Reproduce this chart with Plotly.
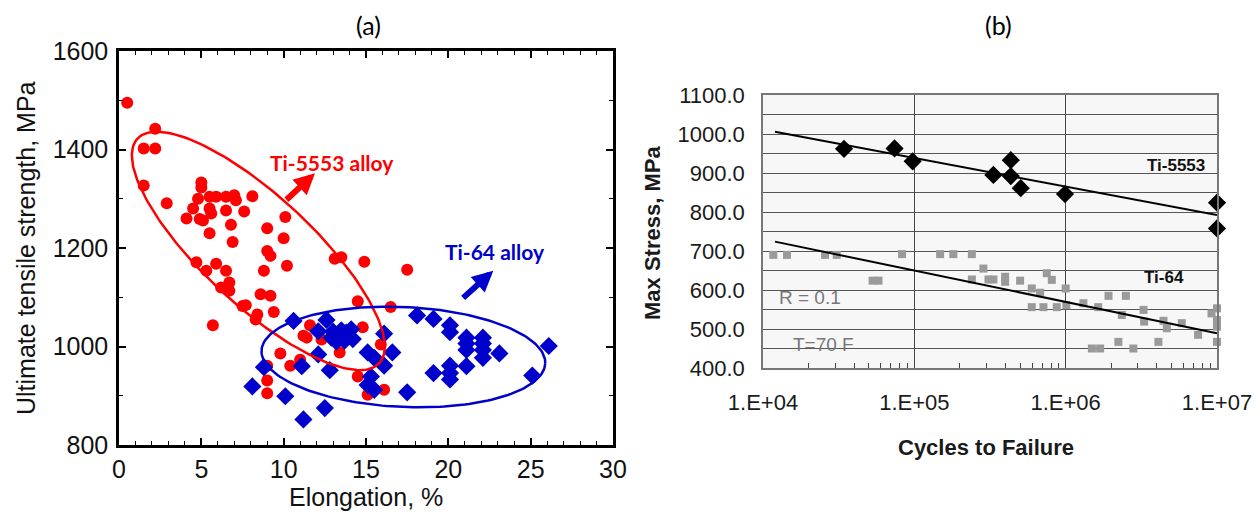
import numpy as np
import plotly.graph_objects as go

# ---------------- Panel (a) data ----------------
ti5553_elong = [0.5, 2.2, 1.5, 2.2, 1.5, 2.9, 5.0, 5.0, 4.8, 5.5, 5.9, 6.5, 7.0, 7.1, 8.1,
                4.5, 4.9, 5.1, 5.5, 5.6, 4.1, 6.5, 7.6, 10.1, 5.5, 6.8, 6.9, 9.0, 10.0, 9.0,
                9.2, 13.1, 13.5, 14.9, 17.5, 10.2, 8.8, 4.7, 5.9, 5.3, 6.5, 6.7, 6.7, 6.2, 8.6,
                9.2, 7.5, 7.7, 8.4, 8.3, 9.4, 5.7, 14.5, 16.5, 11.6, 11.2, 11.4, 12.3, 14.8, 15.9,
                9.8, 13.4, 11.0, 10.4, 9.0, 9.0, 9.0, 14.5, 15.1, 16.1]
ti5553_uts = [1495, 1442, 1402, 1402, 1327, 1291, 1333, 1323, 1300, 1304, 1304, 1304, 1307, 1297, 1305,
              1280, 1259, 1256, 1280, 1270, 1260, 1276, 1274, 1263, 1230, 1247, 1212, 1240, 1220, 1194,
              1184, 1178, 1181, 1172, 1156, 1164, 1154, 1171, 1168, 1154, 1154, 1130, 1113, 1120, 1106,
              1103, 1082, 1084, 1065, 1055, 1070, 1043, 1092, 1080, 1043, 1022, 1018, 1014, 1039, 1004,
              986, 988, 973, 961, 961, 931, 905, 939, 902, 912]

ti64_elong = [10.6, 12.6, 12.1, 13.0, 13.3, 13.5, 13.8, 14.1, 13.7, 14.2, 13.2, 12.9, 16.1, 12.1,
              15.1, 15.5, 16.6, 11.1, 12.8, 16.1, 8.8, 15.3, 15.1, 15.5, 8.1, 10.1, 17.5, 12.5, 11.2,
              18.1, 19.1, 20.1, 20.1, 21.1, 21.1, 21.1, 22.1, 22.1, 22.1, 22.1, 23.1, 26.1, 21.1,
              20.1, 20.1, 20.1, 19.1, 25.1]
ti64_uts = [1052, 1054, 1031, 1030, 1020, 1033, 1028, 1035, 1012, 1015, 1010, 1018, 1026, 984,
            988, 977, 988, 960, 952, 961, 958, 939, 922, 912, 919, 899, 907, 875, 852,
            1063, 1056, 1043, 1029, 1018, 1006, 993, 1018, 1006, 993, 977, 986, 1001, 960,
            961, 946, 933, 946, 941]

# ellipse annotations (centre in data units, semi-axes in screen px, angle in deg)
ell_red = dict(cx=8.46, cy=1194, a=165, b=54.5, ang=42.9)
ell_blue = dict(cx=17.27, cy=978.7, a=142, b=50, ang=2.6)

# ---------------- Panel (b) data ----------------
ti5553_cycles = [3.43e4, 7.4e4, 9.75e4, 3.33e5, 4.34e5, 4.34e5, 5.05e5, 9.9e5, 1.0e7, 1.0e7]
ti5553_stress = [962, 963, 930, 895, 933, 892, 861, 846, 824, 758]
ti5553_trend_x = [1.2e4, 1.0e7]
ti5553_trend_y = [1006, 792]

ti64_cycles = [1.17e4, 1.44e4, 2.57e4, 3.07e4, 8.3e4, 5.3e4, 5.8e4, 1.48e5, 1.81e5, 2.4e5,
               2.86e5, 2.4e5, 3.09e5, 3.33e5, 3.98e5, 3.98e5, 5.0e5, 5.97e5, 6.78e5, 5.97e5,
               7.13e5, 8.73e5, 7.5e5, 8.1e5, 1.0e6, 1.01e6, 1.31e6, 1.64e6, 1.92e6, 2.5e6,
               2.35e6, 3.27e6, 3.3e6, 4.43e6, 4.66e6, 5.85e6, 7.5e6, 1.0e7, 9.2e6, 1.0e7,
               1.0e7, 1.0e7, 1.49e6, 1.69e6, 2.23e6, 2.8e6, 4.1e6]
ti64_stress = [690, 690, 690, 690, 692, 624, 624, 692, 692, 692,
               655, 627, 627, 627, 634, 621, 624, 604, 593, 556,
               556, 556, 643, 626, 604, 561, 566, 556, 585, 585,
               536, 549, 519, 521, 502, 515, 485, 553, 540, 523,
               506, 467, 450, 450, 467, 450, 467]
ti64_trend_x = [1.2e4, 1.0e7]
ti64_trend_y = [724, 489]

x2_tickvals = [1e4, 1e5, 1e6, 1e7]
x2_ticktext = ["1.E+04", "1.E+05", "1.E+06", "1.E+07"]
x2_minor = [k * d for d in (1e4, 1e5, 1e6) for k in range(2, 10)]

# ---------------- layout geometry ----------------
# the page has an 8px body margin; positions below are window pixels
OFF = 8
W, H = 1260, 516
A_L, A_R, A_T, A_B = 119, 613, 51, 445
B_L, B_R, B_T, B_B = 763, 1217, 95, 368
XA = [0, 30]
YA = [800, 1600]
SX = (A_R - A_L) / (XA[1] - XA[0])
SY = (A_B - A_T) / (YA[1] - YA[0])

ARIAL = "Arial, Liberation Sans, sans-serif"
CAL = "Lato, Carlito, Calibri, sans-serif"


def ellipse(p, n=200):
    t = np.linspace(0, 2 * np.pi, n)
    th = np.deg2rad(p["ang"])
    dx = p["a"] * np.cos(t) * np.cos(th) - p["b"] * np.sin(t) * np.sin(th)
    dy = p["a"] * np.cos(t) * np.sin(th) + p["b"] * np.sin(t) * np.cos(th)
    return p["cx"] + dx / SX, p["cy"] - dy / SY


def pxx(x):
    return (x - OFF) / W


def pyy(y):
    return 1 - (y - OFF) / H


fig = go.Figure()

# panel (a)
fig.add_trace(go.Scatter(x=ti5553_elong, y=ti5553_uts, mode="markers", xaxis="x", yaxis="y",
                         marker=dict(symbol="circle", size=12, color="#ff0000"), showlegend=False))
fig.add_trace(go.Scatter(x=ti64_elong, y=ti64_uts, mode="markers", xaxis="x", yaxis="y",
                         marker=dict(symbol="diamond", size=14, color="#0000cc"), showlegend=False))
ex, ey = ellipse(ell_red)
fig.add_trace(go.Scatter(x=ex, y=ey, mode="lines", xaxis="x", yaxis="y",
                         line=dict(color="#ff0000", width=2.5), showlegend=False, hoverinfo="skip"))
ex, ey = ellipse(ell_blue)
fig.add_trace(go.Scatter(x=ex, y=ey, mode="lines", xaxis="x", yaxis="y",
                         line=dict(color="#0000cc", width=2.5), showlegend=False, hoverinfo="skip"))

# panel (b)
fig.add_trace(go.Scatter(x=ti64_cycles, y=ti64_stress, mode="markers", xaxis="x2", yaxis="y2",
                         cliponaxis=False,
                         marker=dict(symbol="square", size=8, color="#9a9a9a"), showlegend=False))
fig.add_trace(go.Scatter(x=ti5553_cycles, y=ti5553_stress, mode="markers", xaxis="x2", yaxis="y2",
                         cliponaxis=False,
                         marker=dict(symbol="diamond", size=14, color="#000000"), showlegend=False))
fig.add_trace(go.Scatter(x=ti5553_trend_x, y=ti5553_trend_y, mode="lines", xaxis="x2", yaxis="y2",
                         line=dict(color="#000000", width=2), showlegend=False))
fig.add_trace(go.Scatter(x=ti64_trend_x, y=ti64_trend_y, mode="lines", xaxis="x2", yaxis="y2",
                         line=dict(color="#000000", width=2), showlegend=False))

tickfont_a = dict(family=ARIAL, size=25, color="#111111")
tickfont_b = dict(family=ARIAL, size=22, color="#1a1a1a")

fig.update_layout(
    width=W, height=H, margin=dict(l=0, r=0, t=0, b=0, autoexpand=False),
    paper_bgcolor="white", plot_bgcolor="white", showlegend=False,
    xaxis=dict(domain=[pxx(A_L), pxx(A_R)], range=XA, tickvals=[0, 5, 10, 15, 20, 25, 30],
               automargin=False,
               ticks="inside", ticklen=7, tickwidth=1.5, tickcolor="black",
               showline=True, linewidth=2.5, linecolor="black", mirror="ticks",
               showgrid=False, zeroline=False, tickfont=tickfont_a, ticklabelstandoff=0,
               minor=dict(dtick=1, ticks="inside", ticklen=4, tickwidth=1, tickcolor="black")),
    yaxis=dict(domain=[pyy(A_B), pyy(A_T)], range=YA, tickvals=[800, 1000, 1200, 1400, 1600],
               automargin=False,
               ticks="inside", ticklen=7, tickwidth=1.5, tickcolor="black",
               showline=True, linewidth=2.5, linecolor="black", mirror="ticks",
               showgrid=False, zeroline=False, tickfont=tickfont_a, ticklabelstandoff=3,
               minor=dict(dtick=100, ticks="inside", ticklen=4, tickwidth=1, tickcolor="black")),
    xaxis2=dict(domain=[pxx(B_L), pxx(B_R)], type="log", range=[4, 7], anchor="y2",
                automargin=False,
                tickmode="array", tickvals=x2_tickvals, ticktext=x2_ticktext, ticks="",
                showline=True, linewidth=1.5, linecolor="#777777", mirror=True,
                showgrid=True, gridcolor="#444444", gridwidth=1.2, zeroline=False,
                tickfont=tickfont_b, ticklabelstandoff=14,
                minor=dict(tickmode="array", tickvals=x2_minor, ticks="inside", ticklen=5,
                           tickwidth=1, tickcolor="#444444", showgrid=False)),
    yaxis2=dict(domain=[pyy(B_B), pyy(B_T)], range=[400, 1100], anchor="x2",
                automargin=False,
                tickvals=[400, 500, 600, 700, 800, 900, 1000, 1100], tickformat=".1f", ticks="",
                showline=True, linewidth=1.5, linecolor="#777777", mirror=True,
                showgrid=True, gridcolor="#555555", gridwidth=1.2, zeroline=False,
                tickfont=tickfont_b, ticklabelstandoff=12,
                minor=dict(dtick=50, showgrid=True, gridcolor="#555555", gridwidth=1.2)),
)

fig.add_shape(type="rect", xref="x2 domain", yref="y2 domain", x0=0, x1=1, y0=0, y1=1,
              fillcolor="#f7f7f7", line=dict(width=0), layer="below")

ann = [
    dict(text="(a)", x=pxx(368), y=pyy(25), font=dict(family=CAL, size=25, color="black")),
    dict(text="(b)", x=pxx(998), y=pyy(25), font=dict(family=CAL, size=25, color="black")),
    dict(text="Elongation, %", x=pxx(366), y=pyy(497), font=dict(family=ARIAL, size=25, color="#111")),
    dict(text="Ultimate tensile strength, MPa", x=pxx(26), y=pyy(248), textangle=-90,
         font=dict(family=ARIAL, size=25, color="#111")),
    dict(text="<b>Cycles to Failure</b>", x=pxx(986), y=pyy(447), font=dict(family=ARIAL, size=22, color="#1a1a1a")),
    dict(text="<b>Max Stress, MPa</b>", x=pxx(652), y=pyy(233), textangle=-90,
         font=dict(family=ARIAL, size=22, color="#1a1a1a")),
]
for a in ann:
    a.update(xref="paper", yref="paper", showarrow=False, xanchor="center", yanchor="middle")
    fig.add_annotation(**a)

fig.add_annotation(x=12.93, y=1373, xref="x", yref="y", text="<b>Ti-5553 alloy</b>", showarrow=False,
                   font=dict(family=CAL, size=21, color="#ff0000"))
fig.add_annotation(x=22.83, y=1192, xref="x", yref="y", text="<b>Ti-64 alloy</b>", showarrow=False,
                   font=dict(family=CAL, size=21, color="#0000cc"))
fig.add_annotation(x=11.9, y=1352, ax=10.08, ay=1295, xref="x", yref="y", axref="x", ayref="y",
                   text="", showarrow=True, arrowhead=2, arrowsize=0.7, arrowwidth=6, arrowcolor="#ff0000")
fig.add_annotation(x=22.73, y=1154, ax=20.81, ay=1096, xref="x", yref="y", axref="x", ayref="y",
                   text="", showarrow=True, arrowhead=2, arrowsize=0.7, arrowwidth=6, arrowcolor="#0000cc")

fig.add_annotation(x=6.73, y=920, xref="x2", yref="y2", text="<b>Ti-5553</b>", showarrow=False,
                   font=dict(family=ARIAL, size=17, color="#111"))
fig.add_annotation(x=6.65, y=631, xref="x2", yref="y2", text="<b>Ti-64</b>", showarrow=False,
                   font=dict(family=ARIAL, size=17, color="#111"))
fig.add_annotation(x=4.31, y=580, xref="x2", yref="y2", text="R = 0.1", showarrow=False,
                   font=dict(family=ARIAL, size=19, color="#777"))
fig.add_annotation(x=4.397, y=459, xref="x2", yref="y2", text="T=70 F", showarrow=False,
                   font=dict(family=ARIAL, size=19, color="#777"))

fig.write_html("out.html")
